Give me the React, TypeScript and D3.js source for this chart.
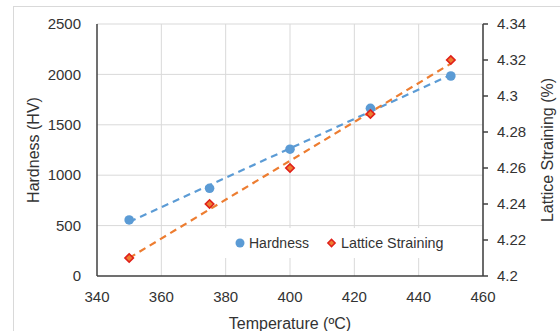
import React from "react";
import * as d3 from "d3";

const temperatures = [350, 375, 400, 425, 450];
const hardness = [556, 870, 1258, 1663, 1984];
const lattice = [4.21, 4.24, 4.26, 4.29, 4.32];
const xTicks = [340, 360, 380, 400, 420, 440, 460];
const yLeftTicks = [0, 500, 1000, 1500, 2000, 2500];
const yRightTicks = [4.2, 4.22, 4.24, 4.26, 4.28, 4.3, 4.32, 4.34];
const seriesNames = ["Hardness", "Lattice Straining"];

const W = 560, H = 331;
const M = { left: 97, right: 483, top: 24, bottom: 276 };
const FONT = "'Liberation Sans', Arial, sans-serif";

function linFit(xs: number[], ys: number[]) {
  const mx = d3.mean(xs)!, my = d3.mean(ys)!;
  let num = 0, den = 0;
  xs.forEach((x, i) => { num += (x - mx) * (ys[i] - my); den += (x - mx) ** 2; });
  const b = num / den;
  const a = my - b * mx;
  return (x: number) => a + b * x;
}

export default function App() {
  const x = d3.scaleLinear().domain([340, 460]).range([M.left, M.right]);
  const yL = d3.scaleLinear().domain([0, 2500]).range([M.bottom, M.top]);
  const yR = d3.scaleLinear().domain([4.2, 4.34]).range([M.bottom, M.top]);

  const fh = linFit(temperatures, hardness);
  const fl = linFit(temperatures, lattice);
  const x0 = temperatures[0], x1 = temperatures[temperatures.length - 1];
  const lineH = d3.line<number>().x((t) => x(t)).y((t) => yL(fh(t)))([x0, x1])!;
  const lineL = d3.line<number>().x((t) => x(t)).y((t) => yR(fl(t)))([x0, x1])!;

  const diamond = d3.symbol().type(d3.symbolSquare).size(36)()!;
  const diamondSmall = d3.symbol().type(d3.symbolSquare).size(26)()!;

  const blue = "#5B9BD5";
  const orange = "#ED7D31";
  const grid = "#d9d9d9";
  const axis = "#404040";
  const text = "#333333";

  return (
    <svg width={W} height={H} style={{ position: "absolute", left: 0, top: 0, background: "#fff" }} fontFamily={FONT}>
      <rect x={13.5} y={6.5} width={W} height={H} fill="#fff" stroke={grid} strokeWidth={1} />
      {/* gridlines */}
      {xTicks.slice(1).map((t) => (
        <line key={"gx" + t} x1={x(t)} x2={x(t)} y1={M.top} y2={M.bottom} stroke={grid} strokeWidth={1} />
      ))}
      {yLeftTicks.slice(1).map((t) => (
        <line key={"gy" + t} x1={M.left} x2={M.right} y1={yL(t)} y2={yL(t)} stroke={grid} strokeWidth={1} />
      ))}
      {/* legend background */}
      <rect x={222} y={228} width={234} height={30} fill="#fff" />
      {/* axes */}
      <line x1={M.left} x2={M.left} y1={M.top} y2={M.bottom} stroke={axis} strokeWidth={1.5} />
      <line x1={M.left} x2={M.right} y1={M.bottom} y2={M.bottom} stroke={axis} strokeWidth={1.5} />
      <line x1={M.right} x2={M.right} y1={M.top} y2={M.bottom} stroke={axis} strokeWidth={1.5} />
      {yRightTicks.map((t) => (
        <line key={"rt" + t} x1={M.right} x2={M.right + 5} y1={yR(t)} y2={yR(t)} stroke={axis} strokeWidth={1.5} />
      ))}
      {/* tick labels */}
      {yLeftTicks.map((t) => (
        <text key={"yl" + t} x={81} y={yL(t)} dy="0.35em" textAnchor="end" fontSize={15} fill={text}>{t}</text>
      ))}
      {yRightTicks.map((t) => (
        <text key={"yr" + t} x={497} y={yR(t)} dy="0.35em" textAnchor="start" fontSize={15} fill={text}>{String(+t.toFixed(2))}</text>
      ))}
      {xTicks.map((t) => (
        <text key={"xl" + t} x={x(t)} y={297} dy="0.35em" textAnchor="middle" fontSize={15} fill={text}>{t}</text>
      ))}
      {/* axis titles */}
      <text x={290} y={323} dy="0.35em" textAnchor="middle" fontSize={16} fill={text}>Temperature (ºC)</text>
      <text transform={`translate(33,150) rotate(-90)`} dy="0.35em" textAnchor="middle" fontSize={16} fill={text}>Hardness (HV)</text>
      <text transform={`translate(547,150) rotate(-90)`} dy="0.35em" textAnchor="middle" fontSize={16} fill={text}>Lattice Straining (%)</text>
      {/* trendlines */}
      <path d={lineH} fill="none" stroke={blue} strokeWidth={2.2} strokeDasharray="7,5" />
      <path d={lineL} fill="none" stroke={orange} strokeWidth={2.2} strokeDasharray="7,5" />
      {/* points */}
      {temperatures.map((t, i) => (
        <circle key={"h" + t} cx={x(t)} cy={yL(hardness[i])} r={4.8} fill={blue} />
      ))}
      {temperatures.map((t, i) => (
        <path key={"l" + t} d={diamond} transform={`translate(${x(t)},${yR(lattice[i])}) rotate(45)`} fill={orange} stroke="#E0201A" strokeWidth={1.6} />
      ))}
      {/* legend */}
      <circle cx={240} cy={243} r={4.5} fill={blue} />
      <text x={249} y={243} dy="0.35em" fontSize={14} fill={text}>{seriesNames[0]}</text>
      <path d={diamondSmall} transform={`translate(331.5,243) rotate(45)`} fill={orange} stroke="#E0201A" strokeWidth={1.5} />
      <text x={341} y={243} dy="0.35em" fontSize={14.3} fill={text}>{seriesNames[1]}</text>
    </svg>
  );
}
